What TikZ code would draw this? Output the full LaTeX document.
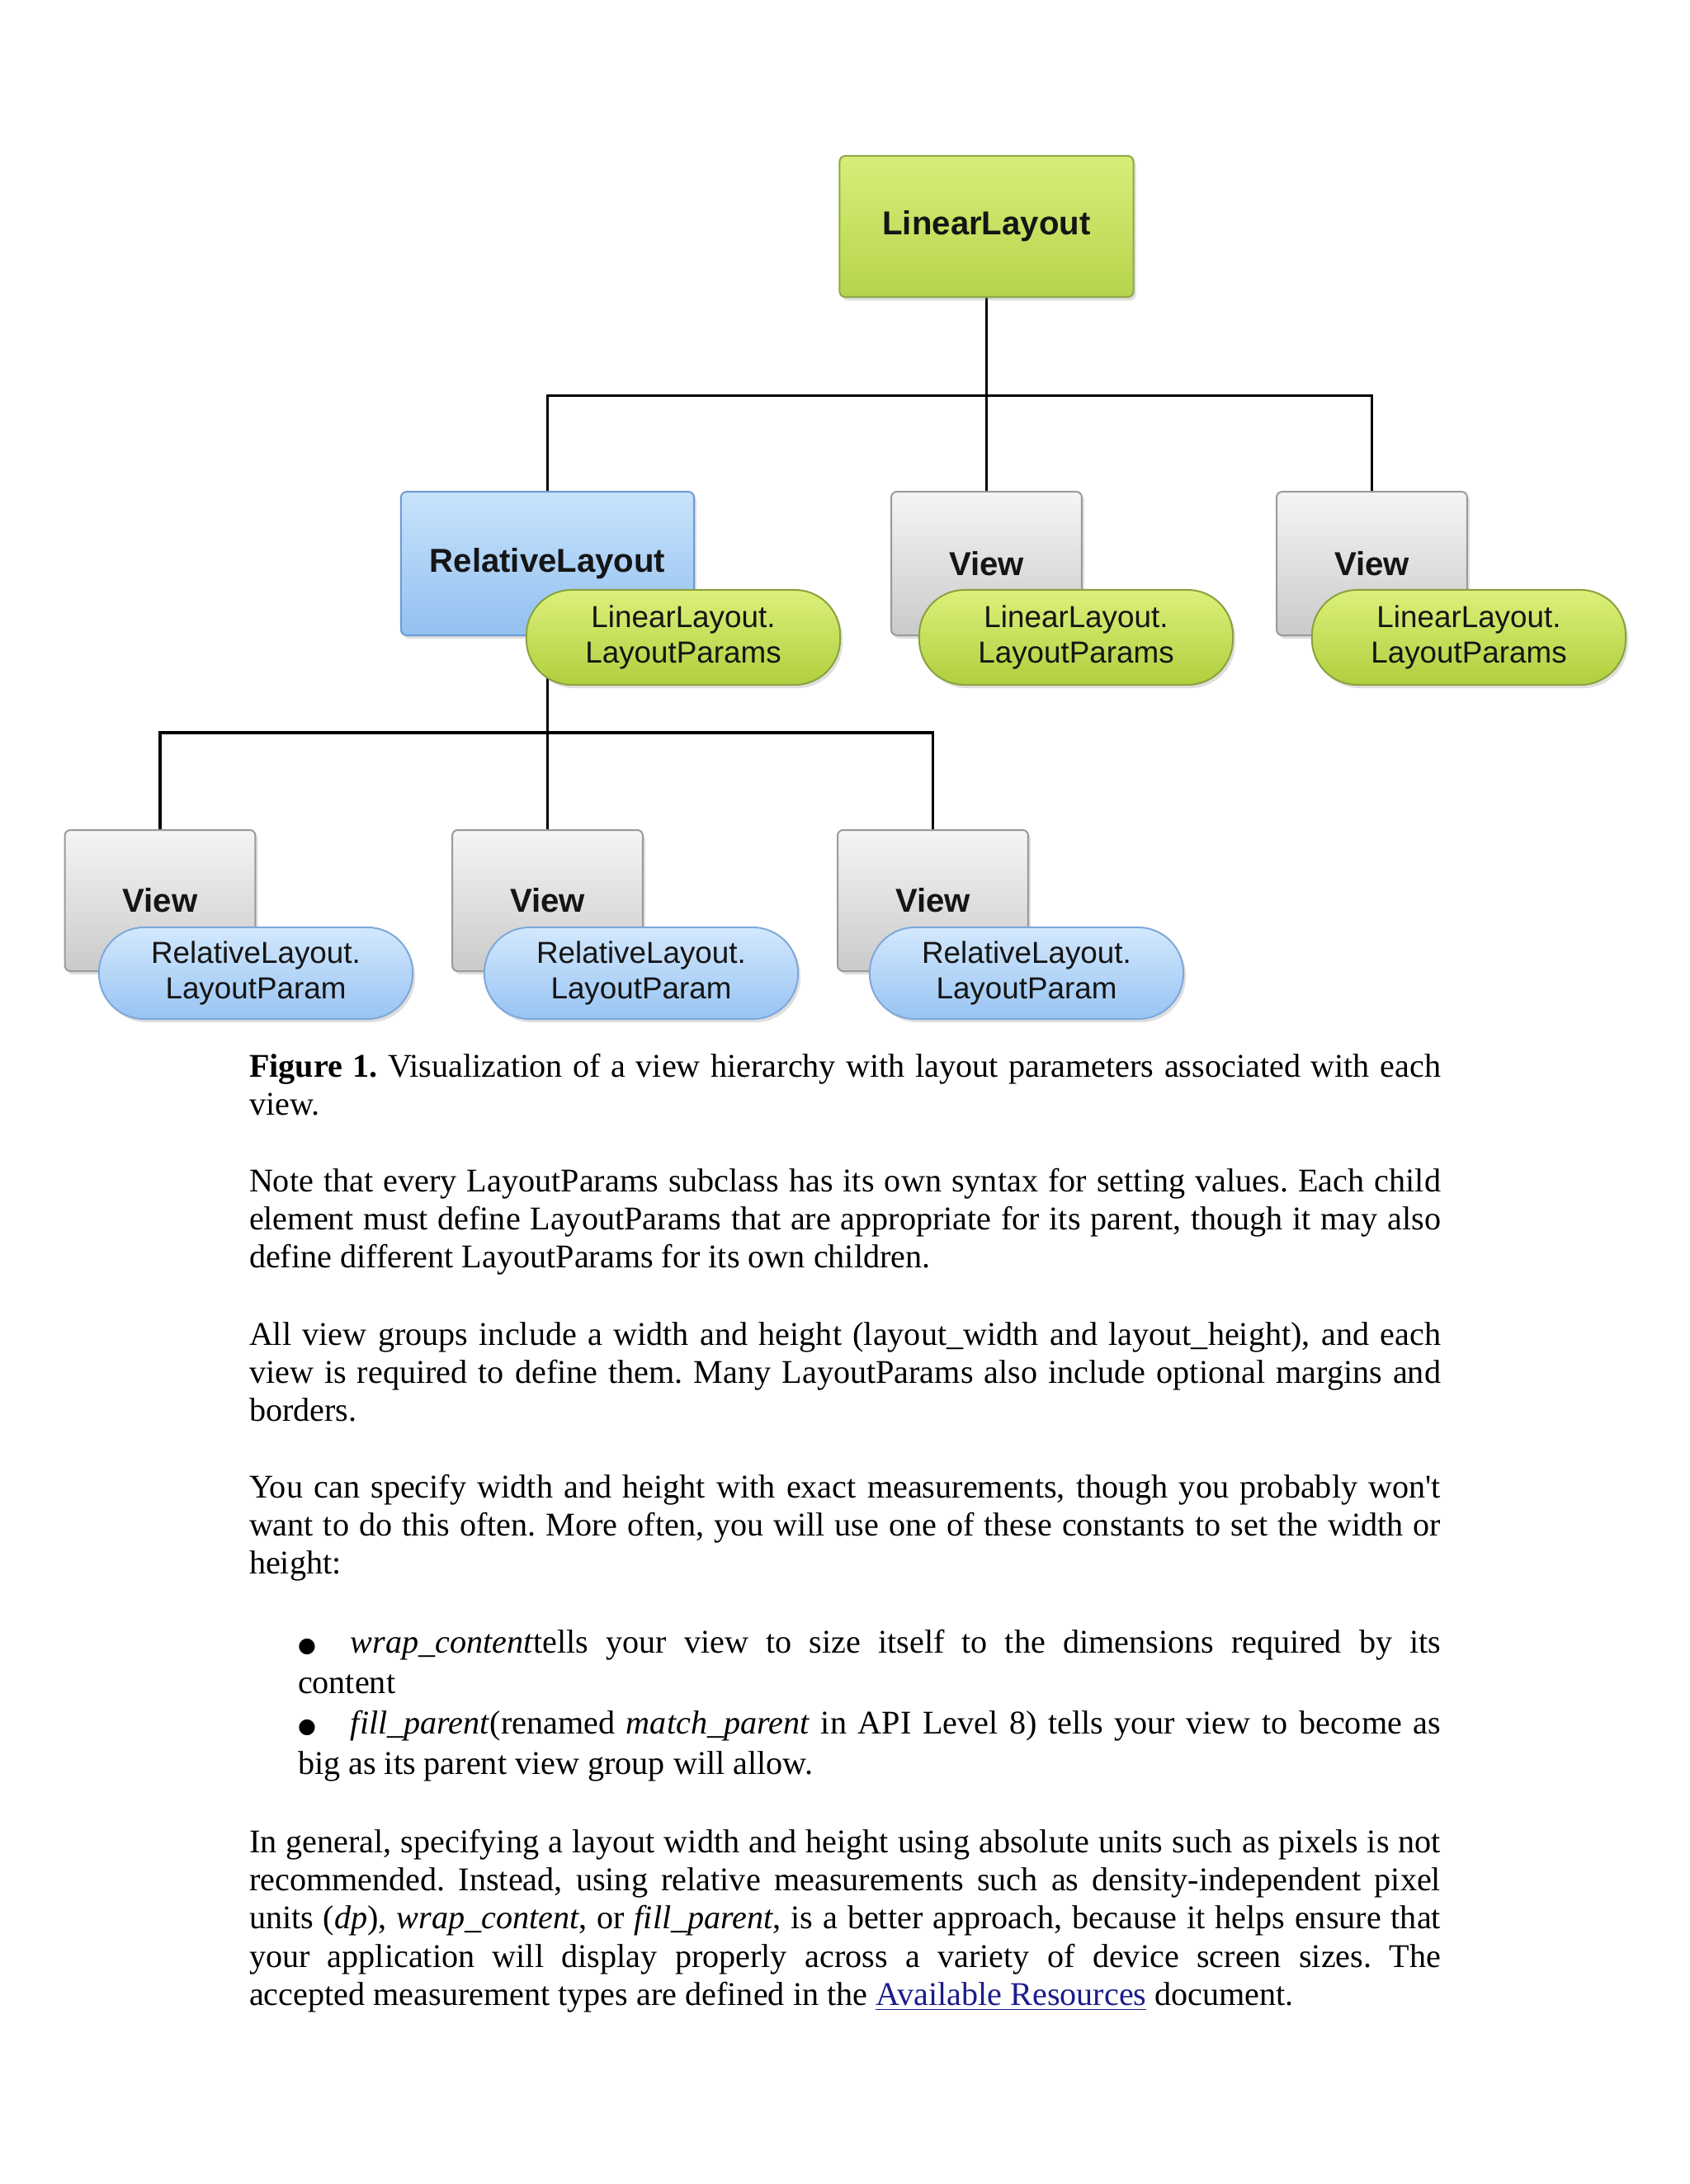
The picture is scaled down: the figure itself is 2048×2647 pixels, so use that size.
\documentclass[tikz,border=0pt]{standalone}
\usepackage{fontspec}
\setmainfont{Liberation Serif}
\newfontfamily\diagfont{Liberation Sans}
\newfontfamily\symfont{DejaVu Sans}
\usetikzlibrary{shadows}
\pgfdeclarelayer{paper}
\pgfdeclarelayer{bg}
\pgfsetlayers{paper,bg,main}
\definecolor{greentop}{HTML}{D8EE78}
\definecolor{greenbot}{HTML}{B6D44C}
\definecolor{greenline}{HTML}{8FA84A}
\definecolor{bluetop}{HTML}{C8E3FC}
\definecolor{bluebot}{HTML}{92C0F0}
\definecolor{blueline}{HTML}{6E9BD2}
\definecolor{graytop}{HTML}{F5F5F5}
\definecolor{graybot}{HTML}{CACACA}
\definecolor{grayline}{HTML}{9A9A9A}
\definecolor{pgreentop}{HTML}{DCF07A}
\definecolor{pgreenbot}{HTML}{B0CF3E}
\definecolor{pgreenline}{HTML}{8AA23E}
\definecolor{pblueline}{HTML}{7FA8DA}
\definecolor{pbluetop}{HTML}{D3E8FD}
\definecolor{pbluebot}{HTML}{98C4F3}
\definecolor{labeltext}{HTML}{151515}
\definecolor{linkblue}{HTML}{1C1C8C}
\newcommand{\bigbullet}{\raisebox{0.3pt}{\symfont\fontsize{7.5pt}{7.5pt}\selectfont ●}}
\tikzset{
  every node/.style={inner sep=0pt, outer sep=0pt},
  wire/.style={draw=black, line width=0.9pt},
  boxbase/.style={draw, line width=0.6pt, rounded corners=2pt,
    font=\diagfont\bfseries\fontsize{12pt}{14pt}\selectfont, text=labeltext,
    drop shadow={opacity=0.25, shadow xshift=0.9pt, shadow yshift=-1.2pt}},
  greenbox/.style={boxbase, draw=greenline, top color=greentop, bottom color=greenbot},
  bluebox/.style={boxbase, draw=blueline, top color=bluetop, bottom color=bluebot},
  graybox/.style={boxbase, draw=grayline, top color=graytop, bottom color=graybot},
  pillbase/.style={draw, line width=0.6pt, rounded corners=16.4pt,
    minimum width=113.6pt, align=center,
    font=\diagfont\fontsize{11pt}{13.1pt}\selectfont, text=labeltext,
    drop shadow={opacity=0.25, shadow xshift=0.9pt, shadow yshift=-1.2pt}},
  greenpill/.style={pillbase, minimum height=34.4pt, draw=pgreenline, top color=pgreentop, bottom color=pgreenbot},
  bluepill/.style={pillbase, minimum height=33.2pt, draw=pblueline, top color=pbluetop, bottom color=pbluebot},
  bodytext/.style={anchor=base west, text width=431.5pt, align=justify,
    font=\fontsize{12pt}{13.87pt}\selectfont,
    execute at begin node={\frenchspacing\hyphenpenalty=10000\exhyphenpenalty=10000\tolerance=10000\hbadness=10000}},
  bullettext/.style={bodytext, text width=413.9pt, font=\fontsize{12pt}{14.64pt}\selectfont}
}
\begin{document}
\begin{tikzpicture}[x=0.298828pt, y=-0.298828pt]
\useasboundingbox (0,0) rectangle (2048,2647);
\begin{pgfonlayer}{paper}
  \fill[white] (0,0) rectangle (2048,2647);
\end{pgfonlayer}

% top level
\node[greenbox, minimum width=106.4pt, minimum height=51.1pt] (LL) at (1195.5,274.5) {LinearLayout};

% second level
\node[bluebox, minimum width=106.1pt, minimum height=52pt] (RL) at (663.5,683) {RelativeLayout};
\node[graybox, minimum width=69pt, minimum height=52pt] (V2) at (1195.5,683) {View};
\node[graybox, minimum width=69pt, minimum height=52pt] (V3) at (1662.5,683) {View};
\node[greenpill] (P1) at (828,772.5) {LinearLayout.\\LayoutParams};
\node[greenpill] (P2) at (1304,772.5) {LinearLayout.\\LayoutParams};
\node[greenpill] (P3) at (1780,772.5) {LinearLayout.\\LayoutParams};

% third level
\node[graybox, minimum width=69pt, minimum height=51.1pt] (B1) at (194,1091.5) {View};
\node[graybox, minimum width=69pt, minimum height=51.1pt] (B2) at (663.5,1091.5) {View};
\node[graybox, minimum width=69pt, minimum height=51.1pt] (B3) at (1130.5,1091.5) {View};
\node[bluepill] (Q1) at (310,1179.5) {RelativeLayout.\\LayoutParam};
\node[bluepill] (Q2) at (777,1179.5) {RelativeLayout.\\LayoutParam};
\node[bluepill] (Q3) at (1244,1179.5) {RelativeLayout.\\LayoutParam};

% connectors
\coordinate (bus1) at (1195.5,479.5);
\coordinate (bus2) at (663.5,888);
\begin{pgfonlayer}{bg}
  \draw[wire] (LL.south) -- (bus1) -| (RL.north);
  \draw[wire] (bus1) -- (V2.north);
  \draw[wire] (bus1) -| (V3.north);
  \draw[wire] (RL.south) -- (bus2) -| (B1.north);
  \draw[wire] (bus2) -- (B2.north);
  \draw[wire] (bus2) -| (B3.north);
\end{pgfonlayer}

% body text
\node[bodytext] (cap) at (302,1305) {\textbf{Figure 1.} Visualization of a view hierarchy with layout parameters associated with each\linebreak view.};

\node[bodytext] (para1) at (302,1444) {Note that every LayoutParams subclass has its own syntax for setting values. Each child\linebreak element must define LayoutParams that are appropriate for its parent, though it may also\linebreak define different LayoutParams for its own children.};

\node[bodytext] (para2) at (302,1630) {All view groups include a width and height (layout\_width and layout\_height), and each\linebreak view is required to define them. Many LayoutParams also include optional margins and\linebreak borders.};

\node[bodytext] (para3) at (302,1815) {You can specify width and height with exact measurements, though you probably won\textquotesingle t\linebreak want to do this often. More often, you will use one of these constants to set the width or\linebreak height:};

\node[bullettext] (item1) at (361,2003) {\makebox[19.1pt][l]{\bigbullet}\textit{wrap\_content}tells your view to size itself to the dimensions required by its\linebreak content};

\node[bullettext] (item2) at (361,2101) {\makebox[19.1pt][l]{\bigbullet}\textit{fill\_parent}(renamed \textit{match\_parent} in API Level 8) tells your view to become as\linebreak big as its parent view group will allow.};

\node[bodytext] (para4) at (302,2245) {In general, specifying a layout width and height using absolute units such as pixels is not\linebreak recommended. Instead, using relative measurements such as density-independent pixel\linebreak units (\textit{dp}), \textit{wrap\_content}, or \textit{fill\_parent}, is a better approach, because it helps ensure that\linebreak your application will display properly across a variety of device screen sizes. The\linebreak accepted measurement types are defined in the \textcolor{linkblue}{\underline{Available Resources}} document.};
\end{tikzpicture}
\end{document}
